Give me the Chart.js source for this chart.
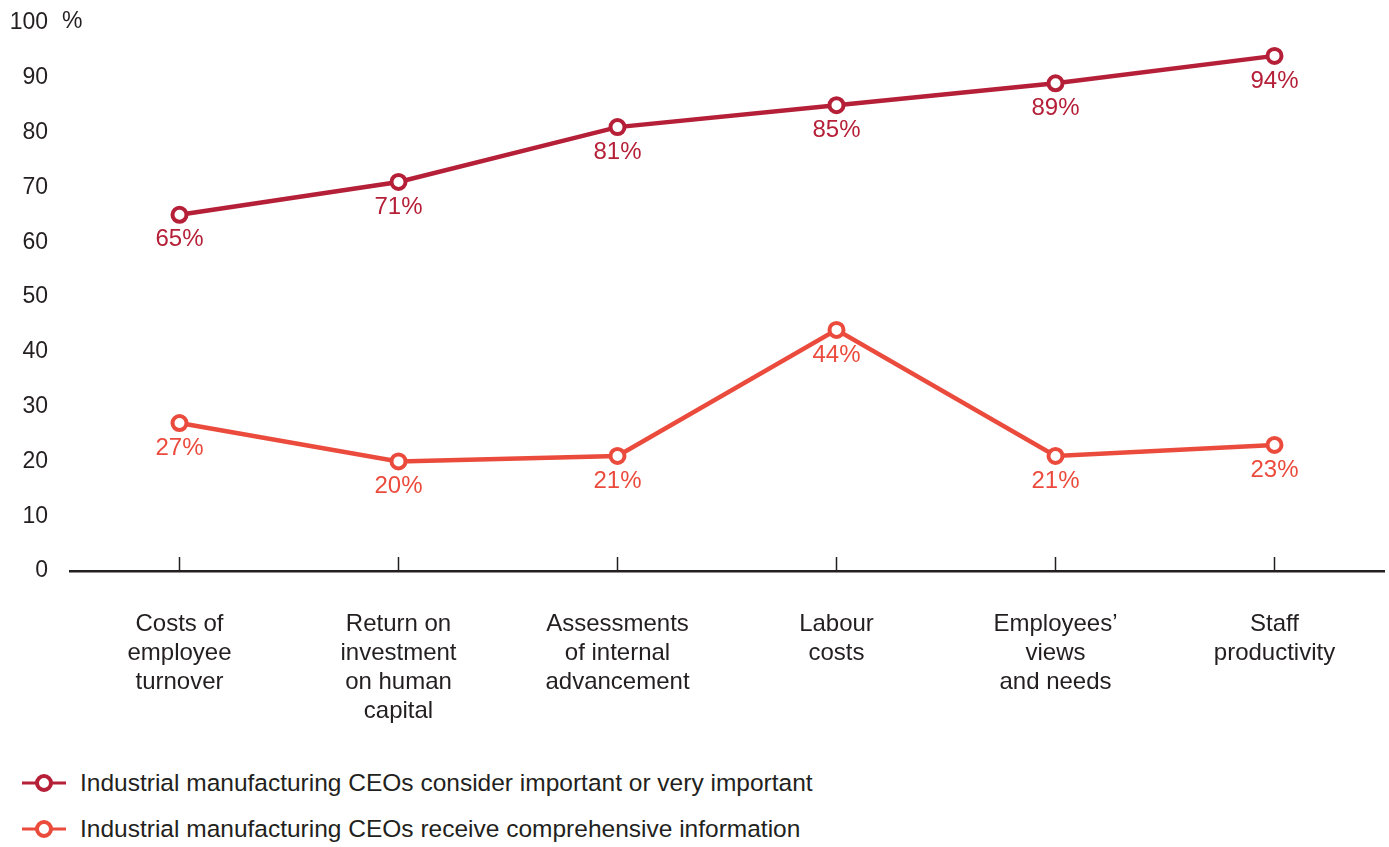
<!DOCTYPE html>
<html>
<head>
<meta charset="utf-8">
<script src="https://cdn.jsdelivr.net/npm/chart.js@4/dist/chart.umd.min.js"></script>
<style>
  body { margin: 0; background: #fff; font-family: "Liberation Sans", Arial, sans-serif; }
  #wrap { position: relative; width: 1389px; height: 847px; }
  #grafico { position: absolute; left: 0; top: 0; }
  .legenda { position: absolute; left: 22px; font-size: 24.5px; color: #231f20; display: flex; align-items: center; }
  .legenda svg { margin-right: 14px; }
</style>
</head>
<body>
<div id="wrap">
  <canvas id="grafico" width="1389" height="745"></canvas>
  <div class="legenda" style="top:769px">
    <svg width="44" height="24"><line x1="0" y1="12" x2="44" y2="12" stroke="#b51f37" stroke-width="3"/><circle cx="22" cy="12" r="7" fill="#fff" stroke="#b51f37" stroke-width="4"/></svg>
    <span>Industrial manufacturing CEOs consider important or very important</span>
  </div>
  <div class="legenda" style="top:815px">
    <svg width="44" height="24"><line x1="0" y1="12" x2="44" y2="12" stroke="#eb4b3c" stroke-width="3"/><circle cx="22" cy="12" r="7" fill="#fff" stroke="#eb4b3c" stroke-width="4"/></svg>
    <span>Industrial manufacturing CEOs receive comprehensive information</span>
  </div>
</div>
<script>
const categorias = [
  ["Costs of", "employee", "turnover"],
  ["Return on", "investment", "on human", "capital"],
  ["Assessments", "of internal", "advancement"],
  ["Labour", "costs"],
  ["Employees’", "views", "and needs"],
  ["Staff", "productivity"],
];
const importante = [65, 71, 81, 85, 89, 94];
const recebem = [27, 20, 21, 44, 21, 23];
const nomesSeries = [
  "Industrial manufacturing CEOs consider important or very important",
  "Industrial manufacturing CEOs receive comprehensive information",
];

const corVermelha = "#b51f37";
const corLaranja = "#eb4b3c";
const corTexto = "#231f20";
const fonte = "'Liberation Sans', Arial, sans-serif";

// rótulos de porcentagem abaixo de cada ponto
const rotulos = {
  id: "rotulos",
  afterDatasetsDraw(chart) {
    const ctx = chart.ctx;
    ctx.save();
    ctx.font = "24px " + fonte;
    ctx.textAlign = "center";
    ctx.textBaseline = "middle";
    chart.data.datasets.forEach((ds, i) => {
      const meta = chart.getDatasetMeta(i);
      ctx.fillStyle = ds.borderColor;
      meta.data.forEach((p, j) => {
        ctx.fillText(ds.data[j] + "%", p.x, p.y + 25);
      });
    });
    ctx.restore();
  },
};

// traços verticais no eixo x e o símbolo %
const extras = {
  id: "extras",
  afterDraw(chart) {
    const ctx = chart.ctx;
    const x = chart.scales.x;
    const y = chart.scales.y;
    const base = y.getPixelForValue(0);
    ctx.save();
    ctx.strokeStyle = corTexto;
    ctx.lineWidth = 1.5;
    x.ticks.forEach((t, i) => {
      const px = x.getPixelForTick(i);
      ctx.beginPath();
      ctx.moveTo(px, base);
      ctx.lineTo(px, base - 14);
      ctx.stroke();
    });
    ctx.fillStyle = corTexto;
    ctx.font = "23px " + fonte;
    ctx.textAlign = "left";
    ctx.textBaseline = "middle";
    ctx.fillText("%", 62, y.getPixelForValue(100) - 1);
    ctx.restore();
  },
};

new Chart(document.getElementById("grafico"), {
  type: "line",
  data: {
    labels: categorias,
    datasets: [
      {
        label: nomesSeries[0],
        data: importante,
        borderColor: corVermelha,
        backgroundColor: "#fff",
        borderWidth: 4.5,
        pointRadius: 7,
        pointBorderWidth: 4,
        pointBackgroundColor: "#fff",
        pointBorderColor: corVermelha,
      },
      {
        label: nomesSeries[1],
        data: recebem,
        borderColor: corLaranja,
        backgroundColor: "#fff",
        borderWidth: 4.5,
        pointRadius: 7,
        pointBorderWidth: 4,
        pointBackgroundColor: "#fff",
        pointBorderColor: corLaranja,
      },
    ],
  },
  options: {
    responsive: false,
    animation: false,
    layout: { autoPadding: false, padding: { left: 10, right: 5, top: 23, bottom: 0 } },
    plugins: {
      legend: { display: false },
      tooltip: { enabled: false },
    },
    scales: {
      x: {
        offset: true,
        grid: { display: false, drawTicks: false },
        border: { display: true, color: corTexto, width: 2.5 },
        ticks: {
          color: corTexto,
          font: { family: fonte, size: 24, lineHeight: 1.21 },
          padding: 39,
          maxRotation: 0,
          autoSkip: false,
        },
        afterFit(s) {
          s.height = 174;
          s.paddingLeft = 0;
          s.paddingRight = 0;
        },
      },
      y: {
        min: 0,
        max: 100,
        grid: { display: false, drawTicks: false },
        border: { display: false },
        ticks: {
          stepSize: 10,
          color: corTexto,
          font: { family: fonte, size: 23 },
          padding: 22,
        },
        afterFit(s) {
          s.width = 60;
          s.paddingTop = 0;
          s.paddingBottom = 0;
        },
      },
    },
  },
  plugins: [rotulos, extras],
});
</script>
</body>
</html>
